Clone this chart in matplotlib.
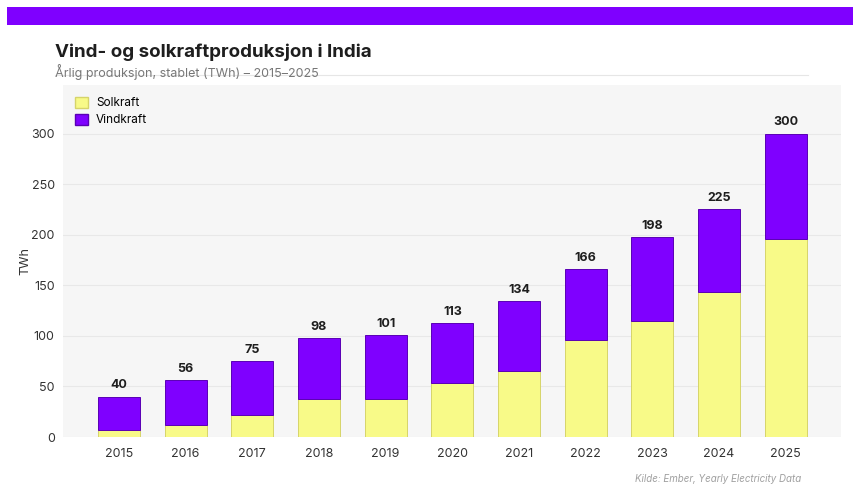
import matplotlib
matplotlib.use("Agg")
import matplotlib.pyplot as plt
from matplotlib.patches import Patch, Rectangle
from matplotlib.lines import Line2D

plt.rcParams['font.family'] = ['Inter', 'DejaVu Sans']

# data (TWh)
years = ["2015", "2016", "2017", "2018", "2019", "2020", "2021", "2022", "2023", "2024", "2025"]
solar = [7, 12, 22, 38, 38, 53, 65, 96, 115, 143, 196]
totals = [40, 56, 75, 98, 101, 113, 134, 166, 198, 225, 300]
wind = [t - s for t, s in zip(totals, solar)]

SOLAR_C = "#f8fa88"
WIND_C = "#7f00ff"

fig = plt.figure(figsize=(8.6, 4.92), dpi=100)

# top banner + header
fig.add_artist(Rectangle((7 / 860, 1 - 25 / 492), 846 / 860, 18 / 492,
                         transform=fig.transFigure, color=WIND_C, lw=0))
fig.text(55 / 860, 1 - 52 / 492, "Vind- og solkraftproduksjon i India",
         fontsize=13.5, fontweight="bold", color="#1e1e1e", va="center")
fig.text(55 / 860, 1 - 72 / 492, "Årlig produksjon, stablet (TWh) – 2015–2025",
         fontsize=9, color="#777777", va="center")
fig.add_artist(Line2D([55 / 860, 808 / 860], [1 - 74.5 / 492] * 2,
                      transform=fig.transFigure, color="#e6e6e6", lw=0.8))

ax = fig.add_axes([63 / 860, 55 / 492, 778 / 860, 352 / 492])
ax.set_facecolor("#f6f6f6")
x = range(len(years))
ax.bar(x, solar, width=0.63, color=SOLAR_C, edgecolor="#d6d46a", linewidth=0.7, zorder=3)
ax.bar(x, wind, width=0.63, bottom=solar, color=WIND_C, edgecolor="#5a00b4",
       linewidth=0.7, zorder=3)
for i, t in enumerate(totals):
    ax.text(i, t + 5, str(t), ha="center", va="bottom", fontsize=9,
            fontweight="bold", color="#1e1e1e", zorder=4)

ax.set_xlim(-0.84, 10.83)
ax.set_ylim(0, 348)
ax.set_yticks([0, 50, 100, 150, 200, 250, 300])
ax.set_xticks(list(x))
ax.set_xticklabels(years)
ax.tick_params(length=0, labelsize=9, colors="#333333")
ax.tick_params(axis="x", pad=8)
ax.tick_params(axis="y", pad=6)
ax.grid(axis="y", color="#e8e8e8", lw=0.8, zorder=0)
for s in ax.spines.values():
    s.set_visible(False)
ax.set_ylabel("TWh", fontsize=9, color="#333333", labelpad=0)

ax.legend(handles=[Patch(facecolor=SOLAR_C, edgecolor="#d6d46a", label="Solkraft"),
                   Patch(facecolor=WIND_C, edgecolor="#5a00b4", label="Vindkraft")],
          loc="upper left", frameon=False, fontsize=8.5, handlelength=1.1,
          handleheight=1.1, handletextpad=0.7, labelspacing=0.35,
          bbox_to_anchor=(0.0, 1.0), borderaxespad=0.6)

fig.text(801 / 860, 1 - 479 / 492, "Kilde: Ember, Yearly Electricity Data",
         fontsize=7, style="italic", color="#a0a0a0", ha="right", va="center")

fig.savefig("out.png", dpi=100)
